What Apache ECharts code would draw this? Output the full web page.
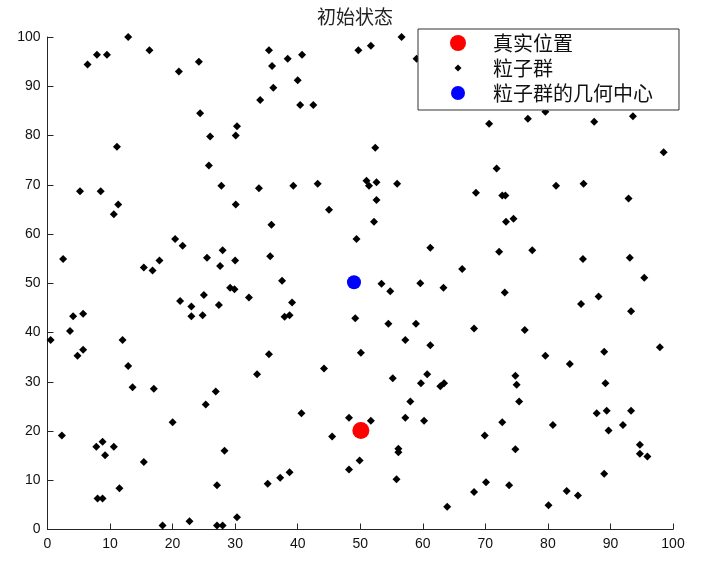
<!DOCTYPE html>
<html><head><meta charset="utf-8">
<script src="https://cdn.jsdelivr.net/npm/echarts@6/dist/echarts.min.js"></script>
<style>html,body{margin:0;padding:0;background:#fff}#c{width:720px;height:569px}</style>
</head><body><div id="c"></div>
<script>
// ---- data ----
const titleText = '初始状态';
const seriesNames = ['真实位置', '粒子群', '粒子群的几何中心'];
const truePos = [50.1, 20.1];
const centroid = [49.0, 50.2];
const particlesX = [
 6.4,7.9,9.5,12.9,16.3,21.0,24.2,24.4,26.0,30.1,30.3,11.1,35.4,35.9,38.4,40.7,40.0,36.1,34.0,40.4,
 42.5,49.7,51.7,56.6,59.0,52.4,70.6,76.8,79.6,87.4,93.6,98.5,5.2,8.5,11.3,10.6,25.8,27.8,30.1,2.5,
 15.4,16.8,17.9,20.4,21.6,25.5,27.6,28.0,30.0,33.8,39.3,43.2,51.0,51.4,52.6,55.9,52.6,45.0,52.2,35.8,
 49.4,61.2,35.6,66.3,37.5,53.4,59.6,71.8,68.5,72.7,73.2,81.3,85.7,92.9,73.3,74.5,72.2,77.5,85.6,93.1,
 95.4,21.2,23.0,25.0,23.0,24.8,27.4,29.2,29.9,32.2,4.1,5.7,3.6,0.5,4.8,5.7,12.0,12.9,13.6,17.0,
 25.3,26.9,33.5,54.8,63.3,39.1,37.9,38.7,49.2,54.5,58.9,57.2,61.2,35.4,50.1,44.2,55.2,60.7,59.7,62.8,
 63.4,58.0,73.1,85.3,88.1,93.3,68.2,76.3,79.6,83.5,89.0,97.9,74.8,75.0,89.2,75.4,20.0,2.3,7.8,8.8,
 10.6,9.2,15.4,28.3,27.1,11.5,8.0,8.8,18.4,22.7,27.1,28.0,30.3,40.6,48.2,51.7,45.5,57.2,60.2,56.1,
 56.1,49.9,48.2,38.7,37.2,35.2,55.8,63.9,87.8,89.4,93.3,72.7,80.8,92.0,89.7,69.9,74.8,94.7,94.7,95.9,
 89.0,70.1,68.2,73.8,83.0,84.8,80.1
];
const particlesY = [
 94.4,96.4,96.4,100,97.3,93.0,95.0,84.5,79.8,80.0,81.9,77.7,97.3,94.1,95.6,96.4,91.2,89.7,87.2,86.2,
 86.2,97.3,98.2,100,95.6,77.5,82.4,83.4,84.8,82.8,83.9,76.6,68.7,68.7,66.0,64.0,73.9,69.8,66.0,54.9,
 53.2,52.6,54.6,59.0,57.6,55.2,53.5,56.7,54.6,69.3,69.8,70.2,70.8,69.8,70.5,70.2,66.9,64.9,62.5,61.9,
 59.0,57.2,55.5,52.9,50.5,49.9,50.0,73.3,68.4,67.8,67.8,69.8,70.2,67.2,62.5,63.1,56.4,56.7,54.9,55.2,
 51.1,46.4,45.3,47.6,43.3,43.5,45.6,49.1,48.8,47.1,43.3,43.8,40.3,38.5,35.3,36.5,38.5,33.2,28.9,28.6,
 25.4,28.0,31.5,48.4,49.1,46.1,43.2,43.5,42.9,41.8,41.8,38.5,37.4,35.6,35.9,32.7,30.7,31.5,29.7,29.1,
 29.7,26.0,48.1,45.8,47.3,44.3,40.8,40.5,35.3,33.6,36.1,37.0,31.2,29.4,29.7,26.0,21.8,19.1,16.8,17.8,
 16.8,15.1,13.7,16.0,9.0,8.4,6.3,6.3,0.8,1.7,0.8,0.8,2.5,23.6,22.7,22.1,18.9,22.7,22.1,16.4,
 15.7,14.0,12.2,11.6,10.5,9.3,10.2,4.6,23.6,24.1,24.1,21.8,21.2,21.2,20.1,19.1,16.3,17.2,15.4,14.8,
 11.3,9.6,7.6,9.0,7.8,6.9,4.9
];
const axisMin = 0, axisMax = 100, axisStep = 10;

// ---- chart ----
const particles = particlesX.map((x, i) => [x, particlesY[i]]);
const chart = echarts.init(document.getElementById('c'), null, {renderer: 'canvas'});
const axisCommon = {
  min: axisMin, max: axisMax, interval: axisStep,
  axisLine: {lineStyle: {color: '#262626', width: 1}},
  axisTick: {inside: true, length: 6, lineStyle: {color: '#262626'}},
  axisLabel: {color: '#111', fontSize: 14, fontFamily: 'Liberation Sans, Arial, sans-serif'},
  splitLine: {show: false}
};
const iconBox = 'M0,0M60,20';
chart.setOption({
  animation: false,
  backgroundColor: '#fff',
  title: {text: titleText, left: 312, top: 2,
    textStyle: {fontSize: 19, fontWeight: 'normal', color: '#222', fontFamily: 'Noto Sans CJK SC'}},
  grid: {left: 47.5, right: 47, top: 37, bottom: 39.5, containLabel: false},
  xAxis: Object.assign({type: 'value'}, axisCommon, {axisLabel: Object.assign({}, axisCommon.axisLabel, {margin: 8})}),
  yAxis: Object.assign({type: 'value'}, axisCommon, {axisLabel: Object.assign({}, axisCommon.axisLabel, {margin: 7})}),
  legend: {
    orient: 'vertical', left: 418, top: 29,
    padding: [4, 26, 7, 10], itemGap: 5,
    itemWidth: 60, itemHeight: 20,
    borderColor: '#333', borderWidth: 1, backgroundColor: '#fff',
    textStyle: {fontSize: 20, color: '#111', fontFamily: 'Noto Sans CJK SC'},
    data: [
      {name: seriesNames[0], icon: 'path://' + iconBox + 'M22,10A8,8,0,1,1,38,10A8,8,0,1,1,22,10Z'},
      {name: seriesNames[1], icon: 'path://' + iconBox + 'M26.5,10L30,6.5L33.5,10L30,13.5Z'},
      {name: seriesNames[2], icon: 'path://' + iconBox + 'M23,10A7,7,0,1,1,37,10A7,7,0,1,1,23,10Z'}
    ]
  },
  series: [
    {name: seriesNames[1], type: 'scatter', data: particles, symbol: 'diamond', symbolSize: 8,
      itemStyle: {color: '#000', opacity: 1}, z: 2},
    {name: seriesNames[0], type: 'scatter', data: [truePos], symbol: 'circle', symbolSize: 17,
      itemStyle: {color: '#ff0000', opacity: 1}, z: 3},
    {name: seriesNames[2], type: 'scatter', data: [centroid], symbol: 'circle', symbolSize: 14,
      itemStyle: {color: '#0000ff', opacity: 1}, z: 3}
  ]
});
</script></body></html>
